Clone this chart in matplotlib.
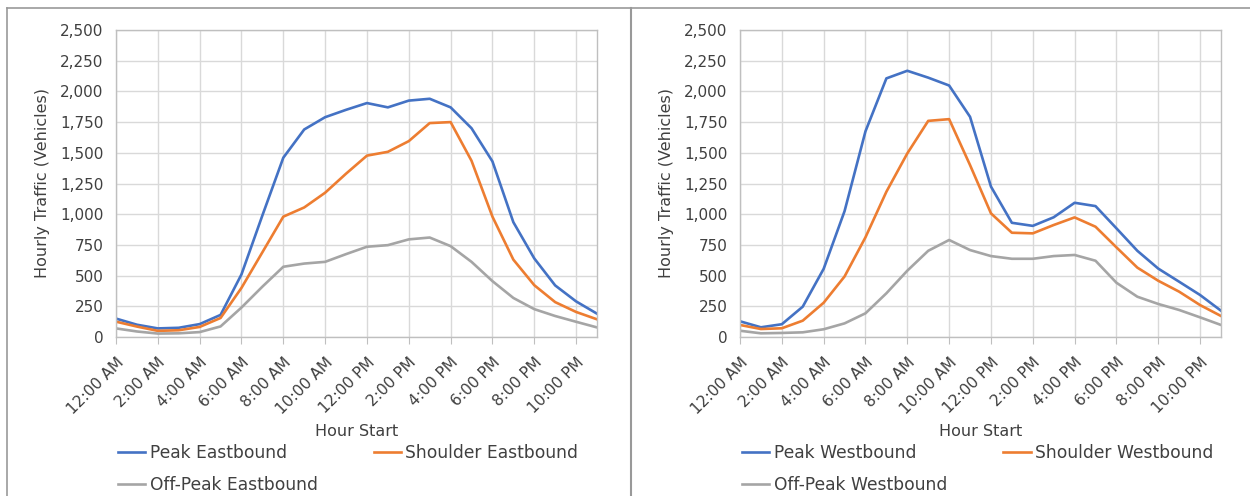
import numpy as np
import matplotlib
matplotlib.use("Agg")
import matplotlib.pyplot as plt
from matplotlib.lines import Line2D
from matplotlib.ticker import FuncFormatter
from matplotlib.transforms import ScaledTranslation

# hour of day, 0 = 12:00 AM
hours = np.arange(24)
tick_hours = np.arange(0, 24, 2)
tick_labels = ['12:00 AM', '2:00 AM', '4:00 AM', '6:00 AM', '8:00 AM', '10:00 AM',
               '12:00 PM', '2:00 PM', '4:00 PM', '6:00 PM', '8:00 PM', '10:00 PM']

# Eastbound
peak_eb = [150, 100, 70, 75, 105, 180, 510, 990, 1460, 1690, 1790, 1850,
           1905, 1870, 1925, 1940, 1870, 1700, 1430, 935, 640, 420, 290, 190]
shoulder_eb = [125, 85, 50, 55, 82, 155, 400, 690, 980, 1055, 1175, 1330,
               1477, 1508, 1595, 1742, 1750, 1435, 980, 630, 422, 284, 204, 144]
offpeak_eb = [70, 45, 28, 30, 40, 86, 240, 410, 572, 598, 612, 675,
              735, 748, 795, 810, 740, 612, 455, 318, 227, 171, 124, 78]

# Westbound
peak_wb = [128, 79, 104, 247, 555, 1025, 1675, 2106, 2168, 2112, 2048, 1793,
           1225, 930, 905, 975, 1093, 1066, 885, 702, 557, 450, 342, 214]
shoulder_wb = [98, 65, 71, 133, 279, 493, 812, 1183, 1495, 1760, 1774, 1400,
               1007, 849, 844, 912, 974, 898, 730, 565, 458, 369, 260, 171]
offpeak_wb = [51, 30, 33, 38, 63, 111, 193, 356, 540, 702, 790, 708,
              659, 637, 637, 659, 668, 621, 442, 328, 269, 220, 160, 98]

blue = '#4472C4'
orange = '#ED7D31'
gray = '#A5A5A5'
text_col = '#404040'

plt.rcParams['font.family'] = ['DejaVu Sans']

fig = plt.figure(figsize=(12.5, 4.96), dpi=100)
W, H = 1250, 496


def make_panel(x0, peak, shoulder, offpeak, direction):
    ax = fig.add_axes([x0 / W, (H - 337) / H, 481 / W, 307 / H])
    l1, = ax.plot(hours, peak, color=blue, lw=1.9, label='Peak ' + direction)
    l2, = ax.plot(hours, shoulder, color=orange, lw=1.9, label='Shoulder ' + direction)
    l3, = ax.plot(hours, offpeak, color=gray, lw=1.9, label='Off-Peak ' + direction)
    ax.set_xlim(0, 23)
    ax.set_ylim(0, 2500)
    ax.set_yticks(np.arange(0, 2501, 250))
    ax.yaxis.set_major_formatter(FuncFormatter(lambda v, p: f'{int(v):,}'))
    ax.set_xticks(tick_hours)
    ax.set_xticklabels(tick_labels, rotation=45, ha='right', rotation_mode='anchor')
    shift = ScaledTranslation(3 / 100, 0, fig.dpi_scale_trans)
    for lab in ax.get_xticklabels():
        lab.set_transform(lab.get_transform() + shift)
    ax.grid(True, color='#D9D9D9', lw=1.0)
    ax.set_axisbelow(True)
    for s in ax.spines.values():
        s.set_color('#BFBFBF')
        s.set_linewidth(1.0)
    ax.tick_params(axis='y', length=0, pad=9, labelsize=11, labelcolor=text_col)
    ax.tick_params(axis='x', length=5, color='#BFBFBF', pad=8, labelsize=11.2, labelcolor=text_col)
    ax.set_ylabel('Hourly Traffic (Vehicles)', fontsize=11.5, color=text_col)
    ax.yaxis.label.set_va('center')
    ax.yaxis.set_label_coords(-0.152, 0.5)
    ax.set_xlabel('Hour Start', fontsize=11.5, color=text_col)
    ax.xaxis.set_label_coords(0.5, -0.309)
    ax.xaxis.label.set_va('center')
    leg = fig.legend([l1, l3, l2], [l1.get_label(), l3.get_label(), l2.get_label()],
                     ncol=2, loc='upper left', bbox_to_anchor=((x0 + 2) / W, 1 - 444 / H),
                     bbox_transform=fig.transFigure, frameon=False, fontsize=12.3,
                     handlelength=1.6, handletextpad=0.25, columnspacing=3.3,
                     borderpad=0, borderaxespad=0, labelspacing=0.8)
    for t in leg.get_texts():
        t.set_color(text_col)
    return ax


make_panel(116, peak_eb, shoulder_eb, offpeak_eb, 'Eastbound')
make_panel(740, peak_wb, shoulder_wb, offpeak_wb, 'Westbound')

# outer frame lines around the two chart panels
frame = '#999999'
fig.add_artist(Line2D([7 / W, 1], [1 - 8 / H, 1 - 8 / H], color=frame, lw=1.2, transform=fig.transFigure))
fig.add_artist(Line2D([7 / W, 7 / W], [0, 1 - 8 / H], color=frame, lw=1.2, transform=fig.transFigure))
fig.add_artist(Line2D([630.5 / W, 630.5 / W], [0, 1 - 8 / H], color=frame, lw=1.5, transform=fig.transFigure))

fig.savefig('out.png', dpi=100)
